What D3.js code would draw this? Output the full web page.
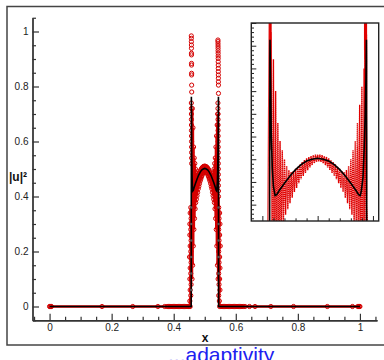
<!DOCTYPE html>
<html>
<head>
<meta charset="utf-8">
<script src="https://cdn.jsdelivr.net/npm/d3@7"></script>
<style>
  body { margin: 0; background: #fff; }
  svg { display: block; font-family: "Liberation Sans", Arial, sans-serif; }
</style>
</head>
<body>
<div id="chart"></div>
<script>
// ---- data ----
const xTicks = [0, 0.2, 0.4, 0.6, 0.8, 1];
const yTicks = [0, 0.2, 0.4, 0.6, 0.8, 1];
const xTickLabels = ["0", "0.2", "0.4", "0.6", "0.8", "1"];
const yTickLabels = ["0", "0.2", "0.4", "0.6", "0.8", "1"];

// black reference solution
const blackX = [0, 0.4563, 0.4565, 0.4565, 0.4565, 0.4566, 0.4566, 0.4566, 0.4566, 0.4567, 0.4567, 0.4567, 0.4568, 0.4568, 0.4569,
  0.4575, 0.458, 0.459, 0.460, 0.4615, 0.463, 0.465, 0.47, 0.475, 0.48, 0.485, 0.49, 0.495, 0.5,
  0.505, 0.51, 0.515, 0.52, 0.525, 0.53, 0.535, 0.537, 0.5385, 0.5395, 0.541, 0.542, 0.543, 0.5437, 0.5441,
  0.5442, 0.5442, 0.5442, 0.5443, 0.5443, 0.5443, 0.5443, 0.5444, 0.5444, 0.5444, 0.5444, 0.5446, 1];
const blackY = [0, 0, 0.06, 0.12, 0.18, 0.24, 0.30, 0.36, 0.42, 0.48, 0.54, 0.60, 0.66, 0.72, 0.763,
  0.66, 0.56, 0.48, 0.44, 0.42, 0.422, 0.43, 0.447, 0.463, 0.477, 0.488, 0.496, 0.5, 0.502,
  0.5, 0.496, 0.488, 0.477, 0.463, 0.447, 0.43, 0.422, 0.42, 0.43, 0.46, 0.52, 0.6, 0.68, 0.763,
  0.72, 0.66, 0.60, 0.54, 0.48, 0.42, 0.36, 0.30, 0.24, 0.18, 0.12, 0, 0];

// red adaptive solution (circles)
const redX = [
  // flat left
  0, 0.002, 0.004, 0.006, 0.169, 0.268, 0.349, 0.371, 0.379, 0.383, 0.387, 0.391, 0.395, 0.399,
  0.403, 0.407, 0.411, 0.415, 0.419, 0.423, 0.427, 0.431, 0.435, 0.439, 0.443, 0.447, 0.450, 0.453,
  // left wall
  0.452, 0.455, 0.453, 0.456, 0.452, 0.455, 0.453, 0.456, 0.451, 0.455, 0.453, 0.456, 0.452, 0.455,
  0.452, 0.456, 0.453, 0.455,
  // left spike column
  0.4567, 0.4568, 0.4568, 0.4569, 0.4569, 0.4570, 0.4570, 0.4571, 0.4571, 0.4572, 0.4572, 0.4573,
  0.4573, 0.4574, 0.4574, 0.4575, 0.4575, 0.4576, 0.4576, 0.4577, 0.4577, 0.4578, 0.4578, 0.4579,
  // left lobe + dome
  0.458, 0.459, 0.460, 0.461, 0.462, 0.463, 0.464, 0.465, 0.466, 0.467, 0.468, 0.469, 0.470, 0.471,
  0.472, 0.473, 0.474, 0.475, 0.476, 0.477, 0.478, 0.479, 0.480, 0.481, 0.482, 0.483, 0.484, 0.485,
  0.486, 0.487, 0.488, 0.489, 0.490, 0.491, 0.492, 0.493, 0.494, 0.495, 0.496, 0.497, 0.498, 0.499,
  // dome + right lobe
  0.500, 0.501, 0.502, 0.503, 0.504, 0.505, 0.506, 0.507, 0.508, 0.509, 0.510, 0.511, 0.512, 0.513,
  0.514, 0.515, 0.516, 0.517, 0.518, 0.519, 0.520, 0.521, 0.522, 0.523, 0.524, 0.525, 0.526, 0.527,
  0.528, 0.529, 0.530, 0.531, 0.532, 0.533, 0.534, 0.535, 0.536, 0.537, 0.538, 0.539, 0.540, 0.541,
  0.542, 0.543,
  // right spike column
  0.5425, 0.5425, 0.5426, 0.5426, 0.5427, 0.5427, 0.5428, 0.5428, 0.5429, 0.5429, 0.5430, 0.5430,
  0.5431, 0.5431, 0.5432, 0.5432, 0.5433, 0.5433, 0.5434, 0.5434, 0.5435, 0.5435, 0.5436, 0.5436,
  0.5437, 0.5437, 0.5438, 0.5438, 0.5439, 0.5439, 0.5440, 0.5440, 0.5441, 0.5441, 0.5442, 0.5442,
  // right wall
  0.545, 0.548, 0.546, 0.549, 0.545, 0.548, 0.546, 0.550, 0.545, 0.548, 0.546, 0.549, 0.545, 0.548,
  0.546, 0.549, 0.545, 0.547,
  // flat right
  0.548, 0.552, 0.556, 0.560, 0.564, 0.568, 0.572, 0.576, 0.580, 0.584, 0.588, 0.592, 0.596, 0.600,
  0.604, 0.608, 0.612, 0.616, 0.620, 0.624, 0.630, 0.644, 0.662, 0.713, 0.786, 0.895, 0.976, 0.993,
  0.996, 0.998, 1.0
];
const redY = [
  0, 0, 0, 0, 0, 0, 0, 0, 0, 0, 0, 0, 0, 0,
  0, 0, 0, 0, 0, 0, 0, 0, 0, 0, 0, 0, 0, 0,
  0.02, 0.04, 0.06, 0.08, 0.10, 0.12, 0.14, 0.16, 0.18, 0.20, 0.22, 0.24, 0.26, 0.28,
  0.30, 0.32, 0.34, 0.36,
  0.984, 0.74, 0.975, 0.72, 0.963, 0.70, 0.951, 0.68, 0.939, 0.66, 0.921, 0.64,
  0.915, 0.62, 0.884, 0.60, 0.878, 0.58, 0.848, 0.56, 0.842, 0.54, 0.805, 0.52,
  0.78, 0.10, 0.72, 0.15, 0.65, 0.22, 0.58, 0.28, 0.54, 0.32, 0.52, 0.355, 0.50, 0.378,
  0.485, 0.39, 0.476, 0.403, 0.472, 0.415, 0.474, 0.428, 0.479, 0.437, 0.484, 0.447, 0.489, 0.456,
  0.494, 0.463, 0.498, 0.47, 0.502, 0.476, 0.505, 0.482, 0.507, 0.487, 0.509, 0.491, 0.51, 0.494,
  0.51, 0.495, 0.51, 0.494, 0.509, 0.491, 0.507, 0.487, 0.505, 0.482, 0.502, 0.476, 0.498, 0.47,
  0.494, 0.463, 0.489, 0.456, 0.484, 0.447, 0.479, 0.437, 0.474, 0.428, 0.472, 0.415, 0.476, 0.403,
  0.485, 0.39, 0.50, 0.378, 0.52, 0.355, 0.54, 0.32, 0.58, 0.28, 0.62, 0.22, 0.66, 0.15,
  0.70, 0.10,
  0.969, 0.74, 0.963, 0.72, 0.955, 0.70, 0.947, 0.68, 0.939, 0.66, 0.930, 0.64,
  0.921, 0.62, 0.911, 0.60, 0.902, 0.58, 0.890, 0.56, 0.878, 0.54, 0.866, 0.52,
  0.854, 0.50, 0.842, 0.48, 0.830, 0.46, 0.817, 0.44, 0.805, 0.42, 0.775, 0.40,
  0.36, 0.34, 0.32, 0.30, 0.28, 0.26, 0.24, 0.22, 0.20, 0.18, 0.16, 0.14, 0.12, 0.10,
  0.08, 0.06, 0.04, 0.02,
  0, 0, 0, 0, 0, 0, 0, 0, 0, 0, 0, 0, 0, 0,
  0, 0, 0, 0, 0, 0, 0, 0, 0, 0, 0, 0, 0, 0,
  0, 0, 0
];

const red = redX.map((x, i) => ({ x, y: redY[i] }));
const black = blackX.map((x, i) => ({ x, y: blackY[i] }));

const W = 384, H = 360;
const svg = d3.select("#chart").append("svg")
  .attr("width", W).attr("height", H);

// outer frame (right edge runs off the picture)
svg.append("rect")
  .attr("x", 7).attr("y", 6.5).attr("width", 400).attr("height", 338.5)
  .attr("fill", "none").attr("stroke", "#444").attr("stroke-width", 1.5);

// === main plot scales ===
const x = d3.scaleLinear().domain([-0.055, 1.055]).range([32.5, 377]);
const y = d3.scaleLinear().domain([-0.05, 1.05]).range([320.25, 17.75]);

function styleAxis(g) {
  g.select(".domain").attr("stroke", "#333").attr("stroke-width", 1.3);
  g.selectAll(".tick line").attr("stroke", "#333").attr("stroke-width", 1.2);
  g.selectAll("text").attr("fill", "#222")
    .style("font-family", "'Liberation Sans', Arial, sans-serif").style("font-size", "10px");
}

const minorX = d3.range(-0.05, 1.06, 0.05).filter(v => Math.abs(v * 5 - Math.round(v * 5)) > 1e-6);
const minorY = minorX;

// minor ticks
svg.append("g").attr("transform", `translate(0,${y(-0.05)})`)
  .call(d3.axisBottom(x).tickValues(minorX).tickSizeInner(-3.5).tickSizeOuter(0).tickFormat(""))
  .call(styleAxis);
svg.append("g").attr("transform", `translate(${x(-0.055)},0)`)
  .call(d3.axisLeft(y).tickValues(minorY).tickSizeInner(-3.5).tickSizeOuter(0).tickFormat(""))
  .call(styleAxis);
// major ticks
svg.append("g").attr("transform", `translate(0,${y(-0.05)})`)
  .call(d3.axisBottom(x).tickValues(xTicks).tickSizeInner(-6.5).tickSizeOuter(0).tickPadding(4)
    .tickFormat((d, i) => xTickLabels[i]))
  .call(styleAxis);
svg.append("g").attr("transform", `translate(${x(-0.055)},0)`)
  .call(d3.axisLeft(y).tickValues(yTicks).tickSizeInner(-6.5).tickSizeOuter(0).tickPadding(4)
    .tickFormat((d, i) => yTickLabels[i]))
  .call(styleAxis);

// axis titles
svg.append("text").attr("x", 205).attr("y", 341.5)
  .attr("text-anchor", "middle").attr("font-weight", "bold").attr("font-size", 12)
  .attr("fill", "#111").text("x");
svg.append("text").attr("x", 9).attr("y", 181)
  .attr("font-weight", "bold").attr("font-size", 12).attr("fill", "#111")
  .text("|u|²");

// === main plot marks ===
// the oscillating red points are dense enough to merge into a band; a thin
// line through them fills the gaps (not above the black spikes)
const redLine = d3.line().defined(d => d.y < 0.77).x(d => x(d.x)).y(d => y(d.y));
svg.append("path").datum(red)
  .attr("d", redLine).attr("fill", "none").attr("stroke", "#d40000").attr("stroke-width", 2.4);
svg.append("g").selectAll("circle")
  .data(red).join("circle")
    .attr("cx", d => x(d.x)).attr("cy", d => y(d.y)).attr("r", 2.1)
    .attr("fill", "none").attr("stroke", "#d40000").attr("stroke-width", 1);

const line = d3.line().x(d => x(d.x)).y(d => y(d.y));
svg.append("path").datum(black)
  .attr("d", line).attr("fill", "none").attr("stroke", "#000").attr("stroke-width", 1.6);
svg.append("g").selectAll("circle")
  .data(black.filter(d => d.y > 0 && d.y < 0.4)).join("circle")
    .attr("cx", d => x(d.x)).attr("cy", d => y(d.y)).attr("r", 1.3)
    .attr("fill", "#555");

// === inset: zoom on the peaks ===
const ix = d3.scaleLinear().domain([0.44, 0.5552]).range([251.3, 378.7]);
const iy = d3.scaleLinear().domain([0.364, 0.8]).range([221, 23]);

const inset = svg.append("g");
inset.append("rect")
  .attr("x", ix(0.44)).attr("y", iy(0.8))
  .attr("width", ix(0.5552) - ix(0.44)).attr("height", iy(0.364) - iy(0.8))
  .attr("fill", "#fff");
svg.append("clipPath").attr("id", "insetClip")
  .append("rect")
  .attr("x", ix(0.44)).attr("y", iy(0.8))
  .attr("width", ix(0.5552) - ix(0.44)).attr("height", iy(0.364) - iy(0.8));

const plotArea = inset.append("g").attr("clip-path", "url(#insetClip)");
const iline = d3.line().x(d => ix(d.x)).y(d => iy(d.y));
plotArea.append("path").datum(red)
  .attr("d", iline).attr("fill", "none").attr("stroke", "#e00000")
  .attr("stroke-width", 1.4).attr("stroke-dasharray", "1.5 0.5");
plotArea.append("path").datum(black)
  .attr("d", iline).attr("fill", "none").attr("stroke", "#000").attr("stroke-width", 1.6);

const insetMinorX = d3.range(0.45, 0.556, 0.01).filter(v => Math.abs(v * 20 - Math.round(v * 20)) > 1e-6);
const insetMajorX = [0.45, 0.5, 0.55];
const insetMinorY = d3.range(0.37, 0.801, 0.01).filter(v => Math.abs(v * 20 - Math.round(v * 20)) > 1e-6);
const insetMajorY = [0.4, 0.45, 0.5, 0.55, 0.6, 0.65, 0.7, 0.75, 0.8];

function styleInsetAxis(g) {
  g.select(".domain").remove();
  g.selectAll(".tick line").attr("stroke", "#222").attr("stroke-width", 1);
}
inset.append("g").attr("transform", `translate(${ix(0.44)},0)`)
  .call(d3.axisLeft(iy).tickValues(insetMinorY).tickSizeInner(-2.7).tickFormat(""))
  .call(styleInsetAxis);
inset.append("g").attr("transform", `translate(${ix(0.44)},0)`)
  .call(d3.axisLeft(iy).tickValues(insetMajorY).tickSizeInner(-5).tickFormat(""))
  .call(styleInsetAxis);
inset.append("g").attr("transform", `translate(0,${iy(0.364)})`)
  .call(d3.axisBottom(ix).tickValues(insetMinorX).tickSizeInner(-2.7).tickFormat(""))
  .call(styleInsetAxis);
inset.append("g").attr("transform", `translate(0,${iy(0.364)})`)
  .call(d3.axisBottom(ix).tickValues(insetMajorX).tickSizeInner(-5).tickFormat(""))
  .call(styleInsetAxis);

inset.append("rect")
  .attr("x", ix(0.44)).attr("y", iy(0.8))
  .attr("width", ix(0.5552) - ix(0.44)).attr("height", iy(0.364) - iy(0.8))
  .attr("fill", "none").attr("stroke", "#222").attr("stroke-width", 1.4);

// caption fragment below the frame
svg.append("text").attr("x", 168).attr("y", 361.5)
  .attr("font-size", 21).attr("fill", "#2020f0")
  .style("font-family", "'Liberation Sans', Arial, sans-serif")
  .text("...adaptivity");
</script>
</body>
</html>
